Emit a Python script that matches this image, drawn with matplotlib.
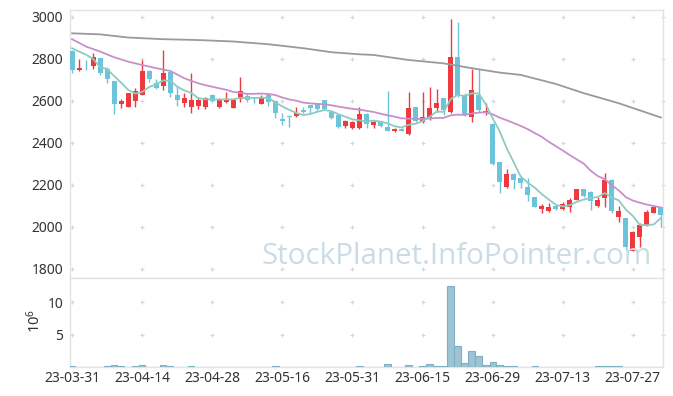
import matplotlib
matplotlib.use('Agg')
import matplotlib.pyplot as plt
import numpy as np
import pandas as pd

plt.rcParams['font.family'] = ['Noto Sans', 'DejaVu Sans']
plt.rcParams['mathtext.fontset'] = 'custom'
plt.rcParams['mathtext.rm'] = 'Noto Sans'
plt.rcParams['mathtext.it'] = 'Noto Sans'

tick_pos = [0, 10, 20, 30, 40, 50, 60, 70, 80]
tick_labels = ['23-03-31', '23-04-14', '23-04-28', '23-05-16', '23-05-31',
               '23-06-15', '23-06-29', '23-07-13', '23-07-27']

open_ = [2838, 2749, 2757, 2768, 2803, 2752, 2695, 2586, 2573, 2602,
         2630, 2743, 2687, 2673, 2740, 2629, 2592, 2573, 2576, 2573,
         2629, 2573, 2597, 2568, 2608, 2624, 2606, 2587, 2629, 2600,
         2513, 2529, 2530, 2559, 2579, 2589, 2605, 2549, 2533, 2481,
         2470, 2470, 2538, 2486, 2502, 2476, 2459, 2467, 2443, 2570,
         2502, 2513, 2565, 2613, 2549, 2808, 2629, 2525, 2629, 2541,
         2490, 2308, 2192, 2252, 2232, 2189, 2141, 2086, 2075, 2100,
         2086, 2097, 2129, 2179, 2167, 2102, 2137, 2224, 2046, 2041,
         1887, 1951, 2010, 2068, 2094]
high = [2843, 2798, 2795, 2830, 2805, 2763, 2697, 2610, 2640, 2660,
        2794, 2745, 2706, 2843, 2742, 2671, 2638, 2732, 2621, 2620,
        2632, 2615, 2641, 2608, 2713, 2640, 2621, 2627, 2632, 2603,
        2541, 2531, 2573, 2573, 2581, 2592, 2606, 2552, 2536, 2508,
        2503, 2573, 2541, 2510, 2505, 2648, 2472, 2470, 2641, 2573,
        2641, 2665, 2656, 2616, 2989, 2975, 2637, 2751, 2751, 2590,
        2493, 2310, 2275, 2255, 2240, 2232, 2144, 2110, 2113, 2103,
        2121, 2137, 2183, 2183, 2170, 2144, 2259, 2227, 2100, 2044,
        1982, 2021, 2081, 2097, 2097]
low = [2735, 2744, 2748, 2752, 2722, 2687, 2537, 2565, 2570, 2570,
       2628, 2692, 2659, 2652, 2621, 2576, 2570, 2541, 2562, 2562,
       2598, 2565, 2589, 2565, 2597, 2594, 2589, 2585, 2576, 2517,
       2484, 2478, 2525, 2541, 2541, 2549, 2557, 2514, 2470, 2470,
       2468, 2465, 2470, 2473, 2478, 2456, 2454, 2456, 2438, 2502,
       2497, 2510, 2549, 2533, 2541, 2621, 2529, 2502, 2549, 2533,
       2296, 2160, 2184, 2179, 2184, 2125, 2094, 2065, 2072, 2083,
       2083, 2070, 2126, 2145, 2081, 2094, 2094, 2065, 2025, 1890,
       1884, 1906, 2005, 2065, 1998]
close = [2748, 2757, 2755, 2808, 2735, 2706, 2586, 2600, 2637, 2648,
         2743, 2705, 2662, 2732, 2637, 2605, 2613, 2605, 2605, 2613,
         2602, 2608, 2610, 2605, 2648, 2605, 2603, 2617, 2597, 2544,
         2506, 2522, 2543, 2549, 2568, 2562, 2560, 2517, 2478, 2505,
         2500, 2538, 2489, 2500, 2481, 2459, 2468, 2459, 2565, 2506,
         2522, 2565, 2589, 2557, 2808, 2629, 2533, 2652, 2557, 2552,
         2298, 2216, 2252, 2224, 2211, 2152, 2097, 2100, 2094, 2086,
         2110, 2129, 2179, 2149, 2125, 2129, 2224, 2078, 2076, 1906,
         1978, 2010, 2073, 2094, 2059]
# volume in millions
volume = [0.08, 0, 0, 0, 0, 0.08, 0.25, 0.08, 0, 0.08,
          0.25, 0, 0, 0.25, 0.08, 0, 0, 0.08, 0, 0,
          0, 0, 0, 0, 0, 0, 0, 0, 0, 0.08,
          0, 0, 0, 0, 0, 0, 0, 0, 0, 0,
          0, 0.08, 0, 0, 0, 0.4, 0, 0, 0.25, 0,
          0.08, 0.4, 0.08, 0.08, 12.4, 3.2, 0.57, 2.45, 1.63, 0.25,
          0.72, 0.25, 0.08, 0.08, 0, 0, 0.08, 0, 0, 0,
          0, 0, 0, 0, 0, 0.08, 0.08, 0.08, 0.08, 0,
          0, 0, 0, 0, 0]

ma5_head = [2851, 2835, 2820, 2800]
ma20_head_idx = [0, 2, 4, 6, 8, 10, 12, 14, 16, 18]
ma20_head = [2894, 2859, 2835, 2808, 2787, 2771, 2756, 2743, 2708, 2684]
ma_long_idx = [0, 4, 8, 13, 18, 23, 28, 33, 37, 41, 43, 48, 53, 57, 61, 64, 69, 73, 78, 84]
ma_long = [2922, 2917, 2902, 2894, 2890, 2883, 2870, 2851, 2832, 2822,
           2819, 2795, 2779, 2756, 2735, 2724, 2681, 2637, 2589, 2521]

RED = '#ee3a3e'
BLUE = '#6cc4da'
C_MA5 = '#8dcbc1'
C_MA20 = '#c98fca'
C_LONG = '#9a9a9a'
GRID = '#d6d6d6'
SPINE = '#e3e3e3'
TXT = '#333333'

n = len(close)
x = np.arange(n)
o = np.array(open_, float)
c = np.array(close, float)
h = np.array(high, float)
l = np.array(low, float)

fig = plt.figure(figsize=(6.73, 3.96), dpi=100)
ax = fig.add_axes([70/673, 1-278/396, 593/673, 268/396])
axv = fig.add_axes([70/673, 1-367/396, 593/673, 89/396], sharex=ax)

up = c >= o
colors = np.where(up, RED, BLUE)
body_bottom = np.minimum(o, c)
body_h = np.maximum(np.abs(c - o), 3.0)
ax.vlines(x, l, h, colors=colors, linewidth=1.0, zorder=2)
ax.bar(x, body_h, bottom=body_bottom, width=0.72, color=colors, linewidth=0, zorder=3)

ma5 = pd.Series(c).rolling(5).mean().to_numpy()
ma5[:4] = ma5_head
ma20 = pd.Series(c).rolling(20).mean().to_numpy()
ma20_x = list(ma20_head_idx) + list(range(19, n))
ma20_y = list(ma20_head) + list(ma20[19:])

ax.plot(ma_long_idx, ma_long, color=C_LONG, lw=1.3, zorder=4)
ax.plot(ma20_x, ma20_y, color=C_MA20, lw=1.3, zorder=4)
ax.plot(x, ma5, color=C_MA5, lw=1.3, zorder=4)

ax.set_xlim(-0.3, 84.3)
ax.set_ylim(1757, 3033)
yt = [1800, 2000, 2200, 2400, 2600, 2800, 3000]
ax.set_yticks(yt)
ax.set_xticks(tick_pos)
ax.tick_params(axis='x', labelbottom=False, length=0)
ax.tick_params(axis='y', length=0, pad=5, labelsize=10, colors=TXT)

# grid crosses
gx = list(tick_pos) + [84.25]
GX, GY = np.meshgrid(gx, yt)
ax.scatter(GX.ravel(), GY.ravel(), marker='+', s=12, color=GRID, linewidths=0.8, zorder=1, clip_on=False)

axv.bar(x, volume, width=0.9, color='#9cc4d4', edgecolor='#7fafc3', linewidth=0.8, zorder=3)
axv.set_ylim(0, 13.7)
axv.set_yticks([5, 10])
axv.set_xticks(tick_pos)
axv.set_xticklabels(tick_labels)
axv.tick_params(axis='both', length=0, labelsize=10, colors=TXT)
axv.tick_params(axis='y', pad=5)
axv.tick_params(axis='x', pad=3)
VX, VY = np.meshgrid(gx, [5, 10])
axv.scatter(VX.ravel(), VY.ravel(), marker='+', s=12, color=GRID, linewidths=0.8, zorder=1, clip_on=False)
axv.set_ylabel(r'$10^6$', fontsize=10.5, color=TXT)
axv.yaxis.set_label_coords(-0.044, 0.52)

for a in (ax, axv):
    for s in a.spines.values():
        s.set_color(SPINE)
        s.set_linewidth(1.0)

fig.text(457/673, 1-256/396, 'StockPlanet.InfoPointer.com', ha='center', va='center',
         fontsize=21.3, color='#c9dce7', family=['Open Sans', 'DejaVu Sans'], zorder=0)

fig.savefig('out.png', dpi=100)
